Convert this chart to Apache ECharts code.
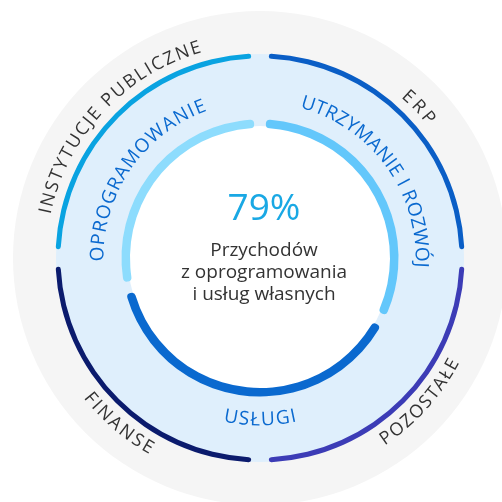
<!DOCTYPE html>
<html>
<head>
<meta charset="utf-8">
<script src="https://cdn.jsdelivr.net/npm/echarts@6/dist/echarts.min.js"></script>
<style>
  html, body { margin: 0; padding: 0; background: #fff; }
  #main { width: 502px; height: 502px; }
</style>
</head>
<body>
<div id="main"></div>
<script>
// dane
var outerNames = ['ERP', 'POZOSTAŁE', 'FINANSE', 'INSTYTUCJE PUBLICZNE'];
var outerValues = [25, 25, 25, 25];
var innerNames = ['UTRZYMANIE I ROZWÓJ', 'USŁUGI', 'OPROGRAMOWANIE'];
var innerValues = [32.5, 39, 28.5];
var centerValue = '79%';
var centerLines = ['Przychodów', 'z oprogramowania', 'i usług własnych'];

// kolory
var outerColors = ['#0a5ec6', '#3c3cb6', '#0b1b6d', '#09a3e1'];
var innerColors = ['#63c7fb', '#0a69cf', '#8ddcfd'];

var CX = 260, CY = 258;
var FONT = '"Open Sans", "Noto Sans", sans-serif';

// położenie napisów na łukach: promień, kąt pierwszej i ostatniej litery
var outerLabelPos = [
  { r: 219, a0: 47.4, a1: 39.8 },
  { r: 220, a0: -55, a1: -29 },
  { r: 220, a0: 219.6, a1: 239.3 },
  { r: 219, a0: 167.6, a1: 107.1 }
];
var innerLabelPos = [
  { r: 161, a0: 72.6, a1: -2.5 },
  { r: 162, a0: 259.7, a1: 281.8 },
  { r: 162, a0: 178.6, a1: 111.7 }
];

var ctx = document.createElement('canvas').getContext('2d');

// tekst po okręgu, litera po literze
function arcText(str, p, size, color) {
  var font = size + 'px ' + FONT;
  ctx.font = font;
  var chars = str.split('');
  var w = chars.map(function (c) { return ctx.measureText(c).width; });
  var dir = p.a1 < p.a0 ? -1 : 1;
  var L = p.r * Math.abs(p.a1 - p.a0) * Math.PI / 180;
  var base = 0;
  for (var i = 1; i < w.length; i++) base += (w[i - 1] + w[i]) / 2;
  var gap = (L - base) / (w.length - 1);
  var s = 0, out = [];
  for (var j = 0; j < chars.length; j++) {
    if (j > 0) s += (w[j - 1] + w[j]) / 2 + gap;
    var t = p.a0 * Math.PI / 180 + dir * s / p.r;
    out.push({
      type: 'text',
      z: 100,
      x: CX + p.r * Math.cos(t),
      y: CY - p.r * Math.sin(t),
      rotation: dir < 0 ? t - Math.PI / 2 : t + Math.PI / 2,
      silent: true,
      style: {
        text: chars[j], font: font, fill: color,
        align: 'center', verticalAlign: 'middle',
        textAlign: 'center', textVerticalAlign: 'middle'
      }
    });
  }
  return out;
}

var chart = echarts.init(document.getElementById('main'));

var graphics = [];
outerNames.forEach(function (n, i) {
  graphics = graphics.concat(arcText(n, outerLabelPos[i], 18, '#333333'));
});
innerNames.forEach(function (n, i) {
  graphics = graphics.concat(arcText(n, innerLabelPos[i], 19, '#0a69cf'));
});
graphics.push({
  type: 'text', z: 100, x: 264, y: 209, silent: true,
  style: { text: centerValue, font: '37px ' + FONT, fill: '#19a8e4',
    align: 'center', verticalAlign: 'middle', textAlign: 'center', textVerticalAlign: 'middle' }
});
centerLines.forEach(function (t, i) {
  graphics.push({
    type: 'text', z: 100, x: 264, y: 251 + i * 22, silent: true,
    style: { text: t, font: '19px ' + FONT, fill: '#333333',
      align: 'center', verticalAlign: 'middle', textAlign: 'center', textVerticalAlign: 'middle' }
  });
});

function disk(r, color) {
  return {
    type: 'pie', center: [CX, CY], radius: [0, r], silent: true,
    label: { show: false }, labelLine: { show: false },
    itemStyle: { color: color },
    data: [{ value: 1, name: '' }]
  };
}

var option = {
  animation: false,
  backgroundColor: '#ffffff',
  graphic: { elements: graphics },
  series: [
    disk(247, '#f5f5f5'),
    disk(204, '#dfeffc'),
    disk(132, '#ffffff'),
    {
      type: 'pie', center: [CX, CY], radius: [199.5, 204.5],
      padAngle: 5, silent: true, startAngle: 90,
      label: { show: false }, labelLine: { show: false },
      itemStyle: { borderRadius: 3 },
      data: outerNames.map(function (n, i) {
        return { name: n, value: outerValues[i], itemStyle: { color: outerColors[i] } };
      })
    },
    {
      type: 'pie', center: [CX, CY], radius: [130, 138.5],
      padAngle: 5, silent: true, startAngle: 90,
      label: { show: false }, labelLine: { show: false },
      itemStyle: { borderRadius: 4 },
      data: innerNames.map(function (n, i) {
        return { name: n, value: innerValues[i], itemStyle: { color: innerColors[i] } };
      })
    }
  ]
};

chart.setOption(option);
</script>
</body>
</html>
